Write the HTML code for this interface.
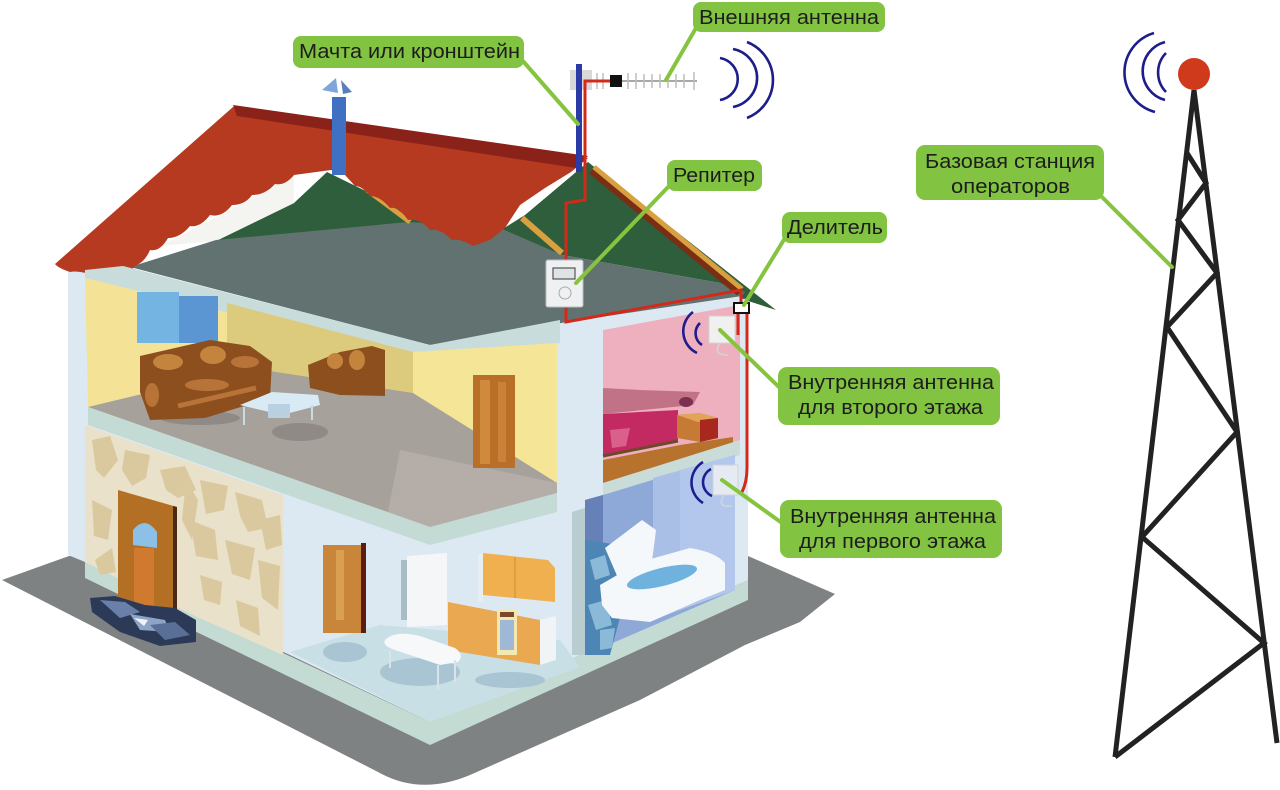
<!DOCTYPE html>
<html><head><meta charset="utf-8"><style>
html,body{margin:0;padding:0;background:#fff;}
svg{display:block;}
text{font-family:"Liberation Sans",Arial,sans-serif;font-size:20px;fill:#1d1d1d;}
</style></head><body>
<svg width="1280" height="790" viewBox="0 0 1280 790" xmlns="http://www.w3.org/2000/svg">
<rect width="1280" height="790" fill="#fff"/>

<!-- ground shadow -->
<path d="M2,580 L69,556 L748,556 L835,594 L800,622 L745,645 L640,700 L470,775 Q420,796 378,772 Z" fill="#7e8283"/>
<!-- base slab -->
<polygon points="85,560 430,722 748,580 748,600 430,745 85,578" fill="#c4dbd4"/>

<!-- house body -->
<polygon points="68,268 123,266 430,345 560,320 745,290 748,580 430,722 290,655 85,562 68,555" fill="#dde9f2"/>

<!-- green attic -->
<polygon points="216,241 294,203 327,172 380,198 430,225 480,243 525,215 588,162 776,310 745,300 720,283 562,255 500,230" fill="#2f5e3c"/>
<!-- white opening -->
<polygon points="160,246 230,210 294,175 294,203 216,241" fill="#f4f4f1"/>
<!-- gray attic floor -->
<polygon points="130,267 216,240 408,222 500,228 562,255 720,283 745,292 742,296 567,322 430,345" fill="#627270"/>
<!-- beams -->
<line x1="592" y1="170" x2="740" y2="292" stroke="#7a2e14" stroke-width="9"/>
<line x1="594" y1="167" x2="742" y2="289" stroke="#d9a040" stroke-width="5"/>
<line x1="522" y1="218" x2="562" y2="253" stroke="#d9a040" stroke-width="6"/>
<line x1="367" y1="190" x2="410" y2="222" stroke="#d9a040" stroke-width="5"/>

<!-- red roof -->
<path d="M233,107 L588,158 L571,172 L545,188 L520,205 L505,228 L490,240 L473,246 Q460,238 452,240 Q440,228 430,230 Q420,218 408,220 Q398,206 390,208 Q380,196 370,196 Q362,186 355,186 L345,175 L331,170 L294,175 Q285,186 275,184 Q265,195 252,195 Q245,205 232,205 Q222,218 210,215 Q200,228 190,226 Q180,238 168,238 Q160,252 150,250 Q145,262 135,266 L122,281 Q110,276 98,277 Q80,270 70,272 Q58,268 55,264 Z" fill="#b53a20"/>
<polygon points="233,105 588,156 576,168 237,116" fill="#8b2219"/>

<!-- chimney -->
<rect x="332" y="97" width="14" height="78" fill="#3f70c2"/>
<polygon points="322,90 336,78 338,93" fill="#7ea6d8"/>
<polygon points="341,80 352,92 343,94" fill="#5b7fb8"/>

<!-- ceiling light strip -->
<polygon points="85,270 123,266 430,345 560,320 560,343 430,362 85,278" fill="#c8dcdb"/>

<!-- upper room walls -->
<polygon points="85,278 430,362 557,343 557,493 430,527 88,407" fill="#f4e296"/>
<polygon points="227,303 413,352 413,405 227,385" fill="#dccb7c"/>
<polygon points="413,352 557,343 557,490 413,395" fill="#f5e597"/>
<!-- window -->
<rect x="137" y="292" width="42" height="51" fill="#74b4e2"/>
<rect x="179" y="296" width="39" height="47" fill="#5b95d2"/>
<!-- upper floor -->
<polygon points="88,407 250,368 413,393 557,483 557,495 430,527" fill="#a7a19b"/>
<polygon points="400,450 557,483 557,495 430,527 388,512" fill="#b5aea8"/>
<ellipse cx="300" cy="432" rx="28" ry="9" fill="#8f8a85"/>
<ellipse cx="200" cy="418" rx="40" ry="7" fill="#8f8a85"/>
<!-- sofa -->
<path d="M140,356 L210,340 L250,346 L272,362 L270,398 L205,418 L150,420 L140,392 Z" fill="#8e4f1e"/>
<ellipse cx="168" cy="362" rx="15" ry="8" fill="#c4843e"/>
<ellipse cx="213" cy="355" rx="13" ry="9" fill="#c4843e"/>
<ellipse cx="245" cy="362" rx="14" ry="6" fill="#b87438"/>
<ellipse cx="207" cy="385" rx="22" ry="6" fill="#b87438"/>
<line x1="178" y1="406" x2="256" y2="388" stroke="#b87438" stroke-width="5"/>
<ellipse cx="152" cy="395" rx="7" ry="12" fill="#b87438"/>
<!-- armchair -->
<path d="M308,365 L340,352 L372,346 L385,350 L385,396 L340,395 L310,388 Z" fill="#8e4f1e"/>
<ellipse cx="335" cy="361" rx="8" ry="8" fill="#c4843e"/>
<ellipse cx="357" cy="360" rx="8" ry="10" fill="#c4843e"/>
<!-- coffee table -->
<polygon points="240,405 272,392 318,395 320,405 282,415" fill="#d8ebf5"/>
<line x1="244" y1="407" x2="244" y2="425" stroke="#c9dce6" stroke-width="2"/>
<line x1="312" y1="405" x2="312" y2="420" stroke="#c9dce6" stroke-width="2"/>
<rect x="268" y="404" width="22" height="14" fill="#b9d0e0"/>
<!-- upper door -->
<rect x="473" y="375" width="42" height="93" fill="#b96f28"/>
<rect x="480" y="380" width="10" height="84" fill="#d08a3c"/>
<rect x="498" y="382" width="8" height="80" fill="#c98238"/>

<!-- upper floor slab -->
<polygon points="88,407 430,527 557,493 557,512 430,545 88,425" fill="#c4dad5"/>

<!-- stone wall -->
<polygon points="85,425 283,495 283,655 195,616 85,562" fill="#e9e1ca"/>
<g fill="#dac99f">
<polygon points="92,440 110,436 118,460 104,478 96,470"/>
<polygon points="125,450 150,455 146,478 132,486 122,470"/>
<polygon points="160,470 185,466 196,490 178,498 166,490"/>
<polygon points="200,480 228,486 224,510 206,514"/>
<polygon points="235,492 262,500 268,528 248,532 240,516"/>
<polygon points="92,500 112,510 108,540 94,536"/>
<polygon points="190,520 215,530 218,560 196,556"/>
<polygon points="225,540 255,548 250,580 232,574"/>
<polygon points="258,560 280,566 278,610 262,598"/>
<polygon points="200,575 222,582 220,605 204,600"/>
<polygon points="236,600 258,608 260,636 240,626"/>
<polygon points="95,560 112,548 116,572 100,575"/>
<polygon points="186,480 198,500 192,540 182,520"/>
<polygon points="260,520 280,515 282,545 266,550"/>
</g>
<!-- front door -->
<polygon points="118,490 177,507 177,623 118,607" fill="#b36f24"/>
<polygon points="173,506 177,507 177,623 173,622" fill="#4a2a14"/>
<path d="M133,545 L133,530 Q145,515 157,532 L157,548 Z" fill="#8cc0e6"/>
<rect x="134" y="548" width="20" height="62" fill="#d07a30"/>
<!-- rocks -->
<g>
<polygon points="90,598 115,596 145,605 175,608 196,620 196,642 160,646 120,632 92,612" fill="#2c3a58"/>
<polygon points="100,600 125,602 140,612 120,618" fill="#6a80a8"/>
<polygon points="130,614 165,620 170,632 140,630" fill="#8ea4c6"/>
<polygon points="150,625 175,622 190,635 165,640" fill="#5a6f96"/>
<polygon points="134,618 148,620 144,626" fill="#f0f4f8"/>
</g>

<!-- lower room floor -->
<polygon points="290,652 380,625 560,640 580,667 430,722" fill="#c8dfe6"/>
<g fill="#a9c4d3">
<ellipse cx="345" cy="652" rx="22" ry="10"/>
<ellipse cx="420" cy="672" rx="40" ry="14"/>
<ellipse cx="510" cy="680" rx="35" ry="8"/>
</g>
<!-- lower door -->
<rect x="323" y="545" width="40" height="88" fill="#c9853a"/>
<rect x="336" y="550" width="8" height="70" fill="#d8a050"/>
<rect x="361" y="543" width="5" height="90" fill="#5a1e10"/>
<!-- fridge -->
<polygon points="407,556 447,553 447,625 407,627" fill="#f4f6f8"/>
<rect x="401" y="560" width="6" height="60" fill="#a8bcc4"/>
<!-- upper cabinets -->
<polygon points="478,554 483,553 483,601 478,602" fill="#e7eef2"/>
<polygon points="483,553 548,560 555,568 555,602 483,595" fill="#f0b050"/>
<line x1="515" y1="557" x2="515" y2="598" stroke="#d9993d" stroke-width="1.5"/>
<!-- lower cabinets -->
<polygon points="448,602 540,620 540,665 448,650" fill="#eaa850"/>
<rect x="497" y="610" width="20" height="45" fill="#f3e8b0"/>
<rect x="500" y="620" width="14" height="30" fill="#9fb8d8"/>
<rect x="500" y="612" width="14" height="5" fill="#7a4a2a"/>
<polygon points="540,620 556,616 556,660 540,665" fill="#f1f4f6"/>
<!-- table -->
<path d="M385,640 Q395,630 420,636 L455,648 Q465,655 458,662 L440,665 L395,650 Q382,646 385,640 Z" fill="#f6f8fa"/>
<line x1="390" y1="650" x2="390" y2="668" stroke="#d8e4ea" stroke-width="2"/>
<line x1="438" y1="665" x2="438" y2="690" stroke="#d8e4ea" stroke-width="2"/>
<line x1="455" y1="660" x2="455" y2="682" stroke="#d8e4ea" stroke-width="2"/>

<!-- right column divider wall strip -->
<polygon points="572,512 585,508 585,655 572,655" fill="#b9ccd0"/>

<!-- pink room -->
<polygon points="603,330 740,305 740,440 603,483" fill="#eeb0be"/>
<polygon points="603,388 640,390 700,392 693,405 603,414" fill="#c27286"/>
<polygon points="603,414 678,410 678,440 603,456" fill="#c42a62"/>
<polygon points="610,430 630,428 626,446 612,448" fill="#d9608a"/>
<ellipse cx="686" cy="402" rx="7" ry="5" fill="#7a3050"/>
<polygon points="603,460 680,445 733,437 733,448 603,483" fill="#b7722e"/>
<line x1="603" y1="456" x2="678" y2="441" stroke="#6b4a2a" stroke-width="3"/>
<polygon points="677,415 700,413 718,418 718,438 700,442 677,438" fill="#c57a35"/>
<polygon points="677,415 700,413 718,418 698,422" fill="#e3a457"/>
<polygon points="700,420 718,418 718,438 700,442" fill="#a8281e"/>
<!-- inner antenna 2nd -->
<rect x="709" y="316" width="26" height="27" fill="#f0f0f0" stroke="#cfd3d6" stroke-width="1"/>
<path d="M720,343 Q712,355 728,355" fill="none" stroke="#d0d6da" stroke-width="1.5"/>

<!-- floor strip between right rooms -->
<polygon points="603,483 740,440 740,455 603,498" fill="#c9dcd8"/>

<!-- bathroom -->
<polygon points="585,500 603,495 735,455 735,590 585,655" fill="#8ea8d8"/>
<polygon points="653,478 735,455 735,590 653,620" fill="#a9bfe6"/>
<polygon points="680,470 735,455 735,590 680,610" fill="#b3c7ec"/>
<polygon points="585,500 603,495 603,545 585,548" fill="#6680b8"/>
<polygon points="585,540 620,545 622,610 610,655 585,655" fill="#4d86b4"/>
<g fill="#8bbad8"><polygon points="590,560 605,555 610,575 595,580"/><polygon points="588,605 606,600 612,625 596,630"/><polygon points="600,630 615,628 612,648 600,650"/></g>
<polygon points="605,548 642,520 656,530 652,562 618,578" fill="#f5f8fb"/>
<path d="M600,585 L640,562 L690,548 Q715,552 725,563 L725,590 L700,600 L650,622 L612,618 L602,605 Z" fill="#f5f8fb"/>
<ellipse cx="662" cy="577" rx="36" ry="9" fill="#6fb2de" transform="rotate(-14 662 577)"/>
<!-- inner antenna 1st -->
<rect x="713" y="465" width="25" height="30" fill="#e6ebf3" stroke="#cfd3d6" stroke-width="1"/>
<path d="M724,495 Q716,508 732,506" fill="none" stroke="#d0d6da" stroke-width="1.5"/>

<!-- right outer wall strip -->
<polygon points="740,300 748,298 748,580 740,583" fill="#dde9f2"/>

<!-- mast & antenna -->
<rect x="570" y="70" width="22" height="20" fill="#d8d8d8"/>
<rect x="576" y="64" width="6" height="108" fill="#2a3aa6"/>
<line x1="588" y1="81" x2="697" y2="81" stroke="#a8a8a8" stroke-width="2"/>
<g stroke="#bdbdbd" stroke-width="1.5">
<line x1="628" y1="73" x2="628" y2="89"/><line x1="636" y1="73" x2="636" y2="89"/><line x1="644" y1="74" x2="644" y2="88"/>
<line x1="652" y1="74" x2="652" y2="88"/><line x1="660" y1="74" x2="660" y2="88"/><line x1="668" y1="74" x2="668" y2="88"/>
<line x1="676" y1="74" x2="676" y2="88"/><line x1="684" y1="74" x2="684" y2="88"/><line x1="694" y1="72" x2="694" y2="90"/>
<line x1="597" y1="73" x2="597" y2="89"/><line x1="603" y1="73" x2="603" y2="89"/>
</g>
<rect x="610" y="75" width="12" height="12" fill="#111"/>

<!-- cables -->
<g fill="none" stroke="#d22a1a" stroke-width="3">
<polyline points="610,81 585,81 585,200 566,203 566,260"/>
<polyline points="566,306 566,322 741,290 741,303"/>
<polyline points="738,312 738,335"/>
<path d="M747,312 L747,468 Q747,482 742,492"/>
</g>
<rect x="734" y="303" width="15" height="10" fill="#fff" stroke="#111" stroke-width="2"/>

<!-- repeater -->
<rect x="546" y="260" width="37" height="47" rx="2" fill="#eef0f1" stroke="#b9bec2" stroke-width="1"/>
<rect x="553" y="268" width="22" height="11" fill="#dfe3e5" stroke="#555" stroke-width="1.2"/>
<circle cx="565" cy="293" r="6" fill="none" stroke="#aaa" stroke-width="1"/>

<!-- waves -->
<g fill="none" stroke="#1d1d8c" stroke-width="2.6">
<path d="M720,58 A21.3,21.3 0 0 1 720,100"/>
<path d="M733,49 A29.5,29.5 0 0 1 733,107"/>
<path d="M747,42 A40.8,40.8 0 0 1 747,118"/>
<path d="M1166,53 A28,28 0 0 0 1166,92"/>
<path d="M1165,42 A30,30 0 0 0 1165,100"/>
<path d="M1154,33 A41,41 0 0 0 1155,112"/>
<path d="M693,312 A24,24 0 0 0 697,353"/>
<path d="M700,323 A14,14 0 0 0 702,345"/>
<path d="M703,462 A24,24 0 0 0 703,503"/>
<path d="M711,469 A15,15 0 0 0 712,496"/>
</g>

<!-- tower -->
<g stroke="#222" stroke-width="5" fill="none" stroke-linejoin="miter">
<line x1="1194" y1="90" x2="1115" y2="757"/>
<line x1="1194" y1="90" x2="1277" y2="743"/>
<polyline points="1187,153 1206,183 1178,220 1217,273 1167,327 1237,432 1142,537 1264,643 1115,757"/>
</g>
<circle cx="1194" cy="74" r="16" fill="#d03a1c"/>

<!-- leader lines -->
<g stroke="#86c440" stroke-width="4" stroke-linecap="round">
<line x1="522" y1="60" x2="578" y2="124"/>
<line x1="696" y1="28" x2="666" y2="80"/>
<line x1="670" y1="185" x2="576" y2="283"/>
<line x1="785" y1="238" x2="744" y2="305"/>
<line x1="1100" y1="195" x2="1172" y2="267"/>
<line x1="780" y1="388" x2="720" y2="330"/>
<line x1="782" y1="523" x2="722" y2="480"/>
</g>

<!-- labels -->
<g fill="#82c341">
<rect x="293" y="36" width="231" height="32" rx="8"/>
<rect x="693" y="2" width="192" height="30" rx="8"/>
<rect x="667" y="160" width="95" height="31" rx="8"/>
<rect x="782" y="212" width="105" height="31" rx="8"/>
<rect x="916" y="145" width="188" height="55" rx="9"/>
<rect x="778" y="367" width="222" height="58" rx="9"/>
<rect x="780" y="500" width="222" height="58" rx="9"/>
</g>
<text x="299" y="58" textLength="221" lengthAdjust="spacingAndGlyphs">Мачта или кронштейн</text>
<text x="699" y="24" textLength="180" lengthAdjust="spacingAndGlyphs">Внешняя антенна</text>
<text x="673" y="182" textLength="82" lengthAdjust="spacingAndGlyphs">Репитер</text>
<text x="787" y="234" textLength="96" lengthAdjust="spacingAndGlyphs">Делитель</text>
<text x="925" y="168" textLength="170" lengthAdjust="spacingAndGlyphs">Базовая станция</text>
<text x="951" y="193" textLength="119" lengthAdjust="spacingAndGlyphs">операторов</text>
<text x="788" y="389" textLength="206" lengthAdjust="spacingAndGlyphs">Внутренняя антенна</text>
<text x="798" y="414" textLength="185" lengthAdjust="spacingAndGlyphs">для второго этажа</text>
<text x="790" y="523" textLength="206" lengthAdjust="spacingAndGlyphs">Внутренняя антенна</text>
<text x="799" y="548" textLength="187" lengthAdjust="spacingAndGlyphs">для первого этажа</text>
</svg>
</body></html>
